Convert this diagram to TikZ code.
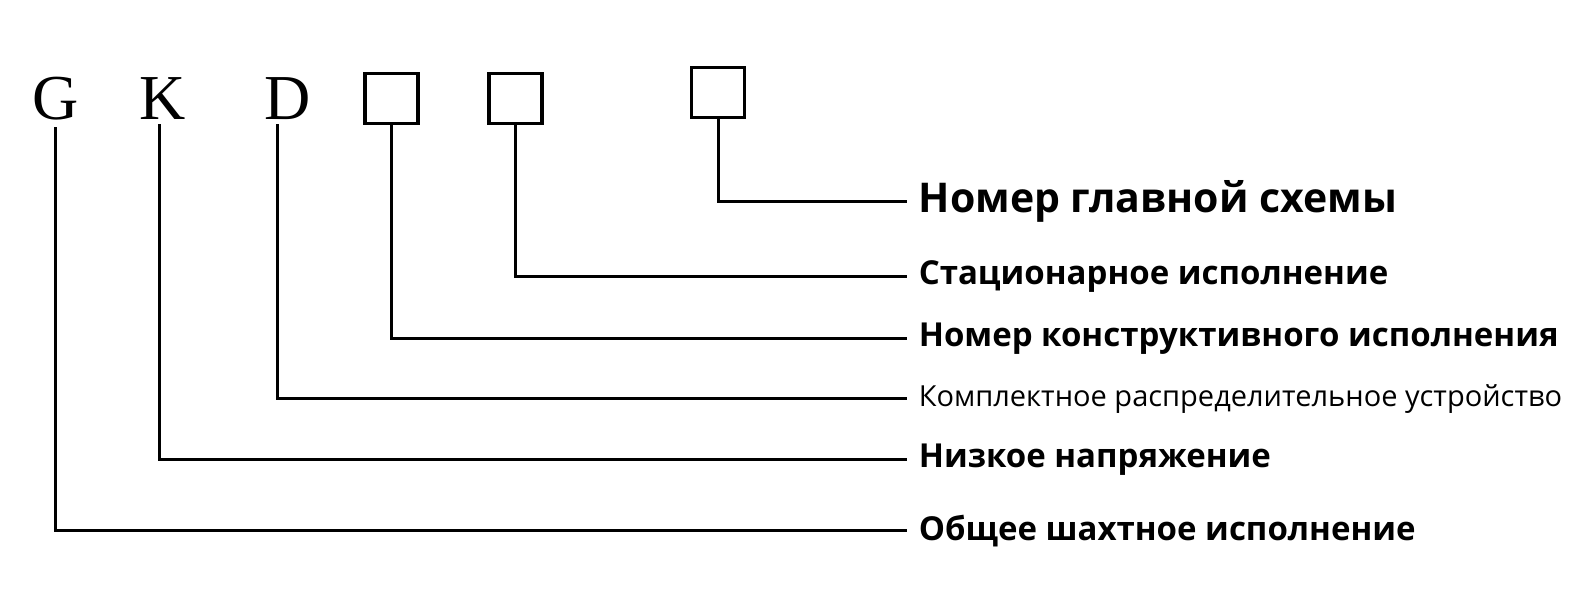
\documentclass[tikz,border=0pt]{standalone}
\usepackage{fontspec}
\setmainfont{Liberation Serif}
\newfontfamily\labfont{Open Sans}
\usetikzlibrary{positioning}
\tikzset{
    x=1.017pt,y=-1.017pt,line width=3pt,
    letter/.style={font=\fontsize{64}{64}\selectfont,inner sep=0pt},
    slot/.style={draw,line width=3.5pt,minimum width=53pt,minimum height=50pt,inner sep=0pt},
    lab/.style={anchor=west,inner sep=0pt,font=\labfont\bfseries\fontsize{33}{33}\selectfont},
    wire/.style={-,line width=3pt,shorten >=12pt}
}
\begin{document}
\begin{tikzpicture}
    \useasboundingbox (0,0) rectangle (1569,596);
    \node[letter] (g) at (55,97) {G};
    \node[letter] (k) at (160,97) {K};
    \node[letter] (d) at (283,97) {D};
    \node[slot] (b1) at (385,97) {};
    \node[slot] (b2) at (507,97) {};
    \node[slot] (b3) at (706,91) {};
    % Labels
    \node[lab,font=\labfont\bfseries\fontsize{41}{41}\selectfont] (l6) at (903,198) {Номер главной схемы};
    \node[lab] (l5) at (903,272) {Стационарное исполнение};
    \node[lab] (l4) at (903,333) {Номер конструктивного исполнения};
    \node[lab,font=\labfont\fontsize{29}{29}\selectfont] (l3) at (903,392) {Комплектное распределительное устройство};
    \node[lab] (l2) at (903,452) {Низкое напряжение};
    \node[lab] (l1) at (903,522) {Общее шахтное исполнение};
    % Leaders
    \draw[wire] (b3.south) |- (l6.west);
    \draw[wire] (b2.south) |- (l5.west);
    \draw[wire] (b1.south) |- (l4.west);
    \draw[wire] (273,122) |- (l3.west);
    \draw[wire] (157,122) |- (l2.west);
    \draw[wire] (55,125) |- (l1.west);
\end{tikzpicture}
\end{document}
